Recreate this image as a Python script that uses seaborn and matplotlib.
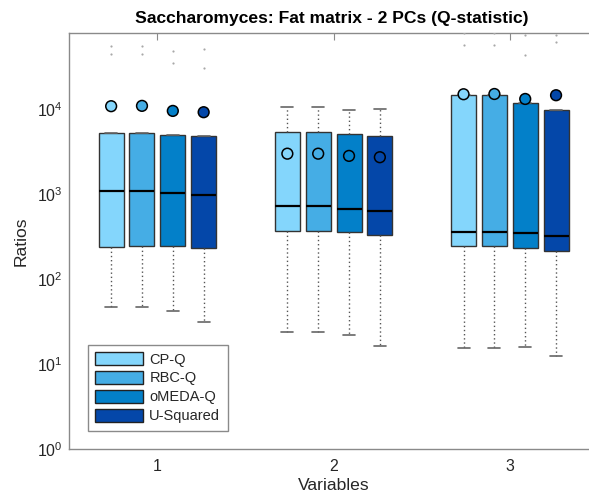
import numpy as np
import pandas as pd
import matplotlib
matplotlib.use('Agg')
import matplotlib.pyplot as plt
from matplotlib.patches import Patch
import seaborn as sns

variables = [1, 2, 3]
methods = ['CP-Q', 'RBC-Q', 'oMEDA-Q', 'U-Squared']
colors = ['#84D6FC', '#45ADE5', '#0380C9', '#0447A9']

# box stats per method, one value per variable
q1 = {
    'CP-Q': [242, 373, 248],
    'RBC-Q': [244, 373, 248],
    'oMEDA-Q': [246, 363, 235],
    'U-Squared': [233, 332, 217],
}
median = {
    'CP-Q': [1085, 728, 363],
    'RBC-Q': [1090, 728, 363],
    'oMEDA-Q': [1036, 677, 348],
    'U-Squared': [982, 631, 326],
}
q3 = {
    'CP-Q': [5300, 5400, 14850],
    'RBC-Q': [5300, 5400, 14850],
    'oMEDA-Q': [5020, 5080, 11970],
    'U-Squared': [4850, 4810, 9890],
}
whisker_low = {
    'CP-Q': [46.9, 23.8, 15.7],
    'RBC-Q': [46.9, 23.8, 15.7],
    'oMEDA-Q': [42.4, 22.1, 16.0],
    'U-Squared': [31.7, 16.6, 12.4],
}
whisker_high = {
    'CP-Q': [5300, 10640, 14850],
    'RBC-Q': [5300, 10640, 14850],
    'oMEDA-Q': [5020, 9730, 11970],
    'U-Squared': [4850, 10000, 9890],
}
means = {
    'CP-Q': [10850, 3000, 15000],
    'RBC-Q': [10950, 3000, 15100],
    'oMEDA-Q': [9550, 2825, 13200],
    'U-Squared': [9220, 2725, 14600],
}
outliers = {
    'CP-Q': [[44700, 56000], [], [57100, 78300]],
    'RBC-Q': [[44700, 56000], [], [57100, 78300]],
    'oMEDA-Q': [[35400, 48500], [], [43900, 74800]],
    'U-Squared': [[30900, 50800], [], [61900, 74800]],
}

offsets = [-0.2625, -0.0875, 0.0875, 0.2625]
box_w = 0.142

sns.set_style('white')
plt.rcParams['font.family'] = ['Liberation Sans', 'DejaVu Sans']
plt.rcParams['mathtext.fontset'] = 'custom'
plt.rcParams['mathtext.rm'] = 'Liberation Sans'
plt.rcParams['mathtext.it'] = 'Liberation Sans:italic'
plt.rcParams['mathtext.bf'] = 'Liberation Sans:bold'

W, H = 589, 500
# the original axes runs a little past the right edge of the picture
left, right = 69.3, 598
fig = plt.figure(figsize=((W + 0.01) / 100, (H + 0.01) / 100), dpi=100)
ax = fig.add_axes([left / W, 50.7 / H, (right - left) / W, 416.6 / H])
ax.set_yscale('log')

mean_rows = []
out_rows = []
for m, (method, off) in enumerate(zip(methods, offsets)):
    stats = []
    pos = []
    for i, v in enumerate(variables):
        stats.append(dict(med=median[method][i], q1=q1[method][i], q3=q3[method][i],
                          whislo=whisker_low[method][i], whishi=whisker_high[method][i],
                          fliers=[]))
        pos.append(v + off)
        mean_rows.append((v + off, means[method][i], method))
        for o in outliers[method][i]:
            out_rows.append((v + off, o))
    ax.bxp(stats, positions=pos, widths=box_w, patch_artist=True, showfliers=False,
           capwidths=0.068, manage_ticks=False,
           boxprops=dict(facecolor=colors[m], edgecolor='#333333', linewidth=1),
           medianprops=dict(color='black', linewidth=1.6),
           whiskerprops=dict(color='#555555', linestyle=(0, (1, 2)), linewidth=1),
           capprops=dict(color='#666666', linewidth=1.2))

mean_df = pd.DataFrame(mean_rows, columns=['pos', 'value', 'method'])
out_df = pd.DataFrame(out_rows, columns=['pos', 'value'])

sns.scatterplot(data=out_df, x='pos', y='value', ax=ax, color='#a8a8a8', s=2.5,
                linewidth=0, legend=False, zorder=3)
sns.scatterplot(data=mean_df, x='pos', y='value', hue='method', hue_order=methods,
                palette=colors, ax=ax, s=60, edgecolor='black', linewidth=1.1,
                legend=False, zorder=4)

ax_w = right - left
ax.set_xlim(0.5, 0.5 + ax_w / 176.2)
ax.set_ylim(1, 10 ** 4.9)
ax.set_xticks(variables)
ax.set_xticklabels([str(v) for v in variables])

for sp in ax.spines.values():
    sp.set_color('#8a8a8a')
    sp.set_linewidth(1)
ax.spines['right'].set_visible(False)
ax.tick_params(axis='both', which='both', direction='in', top=True, right=False,
               colors='#8a8a8a', labelcolor='#262626', labelsize=11.4)
ax.tick_params(axis='x', which='major', length=5, pad=7)
ax.tick_params(axis='y', which='major', length=5, pad=5)
ax.tick_params(axis='y', which='minor', length=3)
ax.tick_params(axis='x', which='minor', bottom=False, top=False)

ax.set_xlabel('Variables', fontsize=12.6, color='#262626', labelpad=6)
ax.xaxis.set_label_coords((334 - left) / ax_w, -0.07)
ax.set_ylabel('Ratios', fontsize=12.6, color='#262626', labelpad=6)
ax.set_title('Saccharomyces: Fat matrix - 2 PCs (Q-statistic)', fontsize=12.6,
             fontweight='bold', color='black', pad=7, x=(331.5 - left) / ax_w)

handles = [Patch(facecolor=c, edgecolor='#222222', linewidth=1) for c in colors]
leg = ax.legend(handles, methods, loc='lower left',
                bbox_to_anchor=((88 - left) / ax_w, 0.045),
                borderaxespad=0, fontsize=10.5, handlelength=3.3, handleheight=1.0,
                handletextpad=0.4, labelspacing=0.3, borderpad=0.5,
                fancybox=False, framealpha=1)
leg.get_frame().set_edgecolor('#8a8a8a')
leg.get_frame().set_linewidth(1)

fig.savefig('out.png', dpi=100, bbox_inches=None)
